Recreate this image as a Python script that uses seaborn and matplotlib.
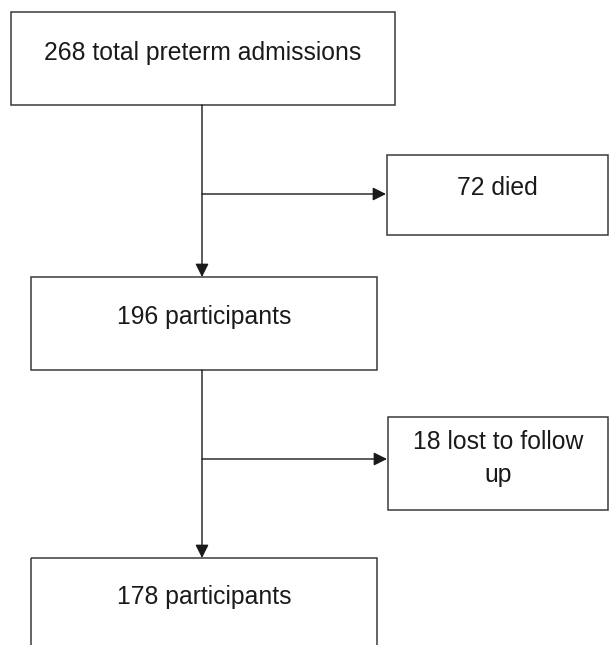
import matplotlib
matplotlib.use('Agg')
import matplotlib.pyplot as plt
import seaborn as sns
from matplotlib.patches import Rectangle

sns.set_theme(style='white')
plt.rcParams['font.family'] = ['Liberation Sans', 'DejaVu Sans']

# flowchart text (main column and exclusions)
main_labels = ['268 total preterm admissions', '196 participants', '178 participants']
side_labels = ['72 died', '18 lost to follow\nup']

# layout in pixels: (left, top, right, bottom)
main_boxes = [(11, 12, 395, 105), (31, 277, 377, 370), (31, 558, 377, 660)]
main_baselines = [60, 324, 604]
side_boxes = [(387, 155, 608, 235), (388, 417, 608, 510)]
side_text_y = [195, 449]
branch_y = [194, 459]
trunk_x = 202
line_step = 33

fig = plt.figure(figsize=(6.09, 6.45), dpi=100)
ax = fig.add_axes([0, 0, 1, 1])
ax.set_xlim(0, 609)
ax.set_ylim(645, 0)
ax.axis('off')

edge = '#3a3a3a'
fs = 17.8

for (l, t, r, b), lab, yb in zip(main_boxes, main_labels, main_baselines):
    ax.add_patch(Rectangle((l, t), r - l, b - t, fill=False, ec=edge, lw=1.1))
    ax.text((l + r) / 2, yb, lab, ha='center', va='baseline', fontsize=fs, color='#1a1a1a')

for (l, t, r, b), lab, yb in zip(side_boxes, side_labels, side_text_y):
    ax.add_patch(Rectangle((l, t), r - l, b - t, fill=False, ec=edge, lw=1.1))
    for k, line in enumerate(lab.split('\n')):
        ax.text((l + r) / 2, yb + k * line_step, line, ha='center', va='baseline',
                fontsize=fs, color='#1a1a1a')

arrow = dict(arrowstyle='-|>,head_length=0.8,head_width=0.4', color='#1a1a1a',
             lw=1.0, mutation_scale=10, shrinkA=0, shrinkB=0)

for i in range(2):
    # vertical trunk arrow to next main box
    ax.annotate('', xy=(trunk_x, main_boxes[i + 1][1]), xytext=(trunk_x, main_boxes[i][3]),
                arrowprops=arrow)
    # branch arrow to exclusion box
    ax.annotate('', xy=(side_boxes[i][0] - 1, branch_y[i]), xytext=(trunk_x, branch_y[i]),
                arrowprops=arrow)

fig.savefig('out.png', dpi=100, facecolor='white')
